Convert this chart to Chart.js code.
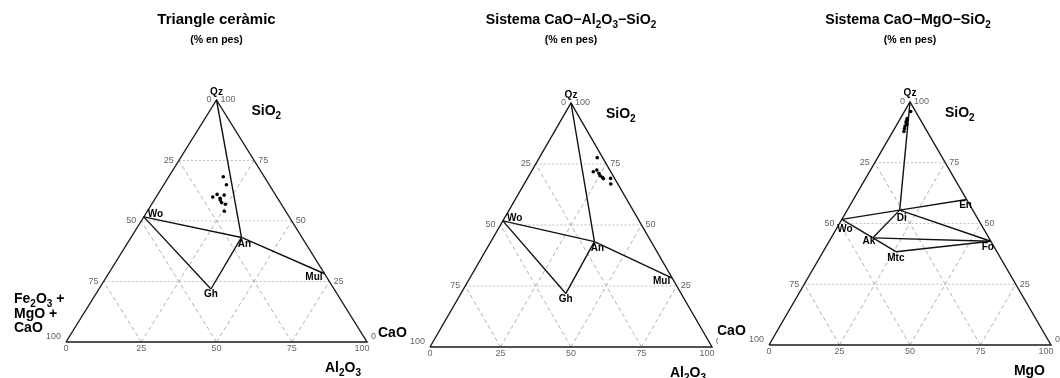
<!DOCTYPE html>
<html>
<head>
<meta charset="utf-8">
<script src="https://cdn.jsdelivr.net/npm/chart.js@4.4.1/dist/chart.umd.min.js"></script>
<style>
    html, body { margin: 0; padding: 0; background: #fff; }
    #wrap { position: relative; width: 1060px; height: 378px; overflow: hidden; }
    .panel { position: absolute; top: 0; height: 378px; }
</style>
</head>
<body>
<div id="wrap">
    <div class="panel" style="left:0px;width:376px"><canvas id="ceramic" width="376" height="378"></canvas></div>
    <div class="panel" style="left:376px;width:342px"><canvas id="cas" width="342" height="378"></canvas></div>
    <div class="panel" style="left:718px;width:342px"><canvas id="cms" width="342" height="378"></canvas></div>
</div>
<script>
const FONT = "'Liberation Sans', Arial, Helvetica, sans-serif";

// Tick values on each edge, and the inner guide lines
const edgeTicks = [0, 25, 50, 75, 100];
const gridTicks = [25, 50, 75];

// Triangle ceràmic samples (% Al2O3, % SiO2, rest Fe2O3 + MgO + CaO)
const ceramicAl2O3 = [18.1, 20.8, 18.8, 19.7, 21.5, 22.2, 21.9, 22.9, 24.5, 25.6];
const ceramicSiO2  = [68.3, 65.0, 59.9, 61.0, 59.4, 60.7, 58.7, 57.6, 56.9, 54.0];

// Sistema CaO-Al2O3-SiO2 samples
const casAl2O3 = [20.5, 22.9, 22.0, 24.3, 25.2, 26.4, 27.0, 29.5, 30.7];
const casSiO2  = [77.6, 72.5, 71.8, 71.2, 70.2, 69.5, 69.0, 69.1, 66.8];

// Sistema CaO-MgO-SiO2 samples
const cmsMgO  = [2.2, 2.4, 2.6, 2.8, 3.4, 3.2, 3.5, 3.9];
const cmsSiO2 = [96.1, 93.2, 92.4, 91.6, 90.9, 90.1, 89.1, 87.9];

// Mineral phases (% en pes)
const casPhases     = ['Qz', 'Wo', 'An', 'Gh', 'Mul'];
const casPhaseAl2O3 = [0, 0, 36.7, 37.2, 71.8];
const casPhaseSiO2  = [100, 51.7, 43.2, 21.9, 28.2];
const casTies = [['Qz', 'An'], ['Wo', 'An'], ['An', 'Mul'], ['Wo', 'Gh'], ['Gh', 'An']];

const cmsPhases    = ['Qz', 'Wo', 'Di', 'En', 'Fo', 'Ak', 'Mtc'];
const cmsPhaseMgO  = [0, 0, 18.6, 40.1, 57.3, 14.8, 25.8];
const cmsPhaseSiO2 = [100, 51.7, 55.5, 59.9, 42.7, 44.1, 38.4];
const cmsTies = [['Qz', 'Di'], ['Wo', 'Di'], ['Di', 'En'], ['Di', 'Fo'], ['Wo', 'Ak'],
                 ['Ak', 'Di'], ['Ak', 'Fo'], ['Ak', 'Mtc'], ['Mtc', 'Fo']];

// Texts
const titles = ['Triangle ceràmic', 'Sistema CaO−Al2O3−SiO2', 'Sistema CaO−MgO−SiO2'];
const subtitle = '(% en pes)';
const topAxis = 'SiO2';
const bottomAxes = ['Al2O3', 'Al2O3', 'MgO'];
const leftAxes = [['Fe2O3 +', 'MgO +', 'CaO'], ['CaO'], ['CaO']];

// Where each phase name sits next to its point: [dx, dy, align]
const casLabelPos = {
    Qz: [0, -7.5, 'center'], Wo: [4, -3, 'left'], An: [3, 6.5, 'center'],
    Gh: [0, 5.5, 'center'], Mul: [-2, 3.5, 'right']
};
const cmsLabelPos = {
    Qz: [0, -8.5, 'center'], Wo: [3, 10, 'center'], Di: [2, 8, 'center'], En: [-1, 6, 'center'],
    Fo: [-3, 6, 'center'], Ak: [-4, 3, 'center'], Mtc: [0, 7, 'center']
};

// ternary (bottom component, SiO2) -> plain x/y in data units
function toXY(b, s) {
    return { x: b + s / 2, y: s };
}

function lineSet(points, color, width, dash) {
    return {
        type: 'scatter',
        data: points,
        showLine: true,
        borderColor: color,
        borderWidth: width,
        borderDash: dash,
        pointRadius: 0,
        fill: false,
        clip: false
    };
}

function buildDatasets(sampB, sampS, names, phB, phS, ties) {
    const ds = [];

    // samples on top
    ds.push({
        type: 'scatter',
        data: sampB.map((b, i) => toXY(b, sampS[i])),
        backgroundColor: '#000',
        borderWidth: 0,
        pointRadius: 1.8,
        clip: false
    });

    // tie lines between phases
    ties.forEach(([p, q]) => {
        const i = names.indexOf(p), j = names.indexOf(q);
        ds.push(lineSet([toXY(phB[i], phS[i]), toXY(phB[j], phS[j])], '#111', 1.4, []));
    });

    // triangle frame
    ds.push(lineSet([toXY(0, 0), toXY(100, 0), toXY(0, 100), toXY(0, 0)], '#1a1a1a', 1.4, []));

    // guide lines
    gridTicks.forEach(v => {
        ds.push(lineSet([toXY(0, v), toXY(100 - v, v)], '#c0c0c0', 1, [2, 2]));
        ds.push(lineSet([toXY(v, 0), toXY(v, 100 - v)], '#b0b0b0', 1, [4, 3]));
        ds.push(lineSet([toXY(100 - v, 0), toXY(0, 100 - v)], '#b0b0b0', 1, [4, 3]));
    });
    return ds;
}

// draw a formula, digits after a letter become subscripts
function drawFormula(ctx, text, x, y, size, align) {
    const runs = [];
    for (let i = 0; i < text.length; i++) {
        const ch = text[i];
        const sub = /[0-9]/.test(ch) && i > 0 && /[A-Za-z]/.test(text[i - 1]);
        const last = runs[runs.length - 1];
        if (last && last.sub === sub) last.t += ch;
        else runs.push({ t: ch, sub: sub });
    }
    const big = 'bold ' + size + 'px ' + FONT;
    const small = 'bold ' + Math.round(size * 0.7) + 'px ' + FONT;
    let total = 0;
    runs.forEach(r => {
        ctx.font = r.sub ? small : big;
        r.w = ctx.measureText(r.t).width;
        total += r.w;
    });
    let cx = align === 'center' ? x - total / 2 : align === 'right' ? x - total : x;
    ctx.textAlign = 'left';
    ctx.textBaseline = 'alphabetic';
    runs.forEach(r => {
        ctx.font = r.sub ? small : big;
        ctx.fillText(r.t, cx, r.sub ? y + size * 0.27 : y);
        cx += r.w;
    });
}

const ternaryText = {
    id: 'ternaryText',
    afterDatasetsDraw(chart, args, opts) {
        const ctx = chart.ctx;
        const xs = chart.scales.x, ys = chart.scales.y;
        const px = (b, s) => xs.getPixelForValue(b + s / 2);
        const py = s => ys.getPixelForValue(s);
        const area = chart.chartArea;
        const apexX = px(0, 100), apexY = py(100);

        ctx.save();
        ctx.fillStyle = '#000';

        // titles
        drawFormula(ctx, opts.title, apexX + opts.titleShift, 24, opts.titleSize, 'center');
        ctx.font = 'bold 10.5px ' + FONT;
        ctx.textAlign = 'center';
        ctx.fillText(subtitle, apexX, 43);

        // axis names
        drawFormula(ctx, topAxis, apexX + 35, apexY + 15, 14, 'left');
        drawFormula(ctx, opts.bottom, area.right - 6, area.bottom + 30, 14, 'right');
        const lines = opts.left;
        lines.forEach((t, k) => {
            const y = area.bottom - 10 - (lines.length - 1 - k) * 14.5;
            drawFormula(ctx, t, area.left - 52, y, 14, 'left');
        });

        // edge tick labels
        ctx.font = '9px ' + FONT;
        ctx.fillStyle = '#666';
        ctx.textBaseline = 'middle';
        edgeTicks.forEach(v => {
            // left edge (third component)
            ctx.textAlign = 'right';
            ctx.fillText(String(v), px(0, 100 - v) - 5, py(100 - v) - (v === 100 ? 5 : 0));
            // right edge (SiO2)
            ctx.textAlign = 'left';
            ctx.fillText(String(v), px(100 - v, v) + 4, py(v) - (v === 0 ? 5 : 0));
            // bottom edge
            ctx.textAlign = 'center';
            ctx.fillText(String(v), px(v, 0) - (v === 100 ? 5 : 0), py(0) + 7);
        });

        // phase names
        ctx.fillStyle = '#000';
        opts.names.forEach((n, i) => {
            const [dx, dy, align] = opts.labelPos[n];
            ctx.font = 'bold 10px ' + FONT;
            ctx.textAlign = align;
            ctx.textBaseline = 'middle';
            ctx.fillText(n, px(opts.phB[i], opts.phS[i]) + dx, py(opts.phS[i]) + dy);
        });
        ctx.restore();
    }
};

function makeTernary(id, padding, datasets, text) {
    return new Chart(document.getElementById(id), {
        type: 'scatter',
        data: { datasets: datasets },
        options: {
            responsive: false,
            animation: false,
            events: [],
            layout: { padding: padding },
            scales: {
                x: { type: 'linear', min: 0, max: 100, display: false },
                y: { type: 'linear', min: 0, max: 100, display: false }
            },
            plugins: {
                legend: { display: false },
                tooltip: { enabled: false },
                ternaryText: text
            }
        },
        plugins: [ternaryText]
    });
}

makeTernary('ceramic', { left: 66, right: 9, top: 100, bottom: 36 },
    buildDatasets(ceramicAl2O3, ceramicSiO2, casPhases, casPhaseAl2O3, casPhaseSiO2, casTies),
    { title: titles[0], titleSize: 15, titleShift: 0, bottom: bottomAxes[0], left: leftAxes[0],
      names: casPhases, phB: casPhaseAl2O3, phS: casPhaseSiO2, labelPos: casLabelPos });

makeTernary('cas', { left: 54, right: 6, top: 103, bottom: 31 },
    buildDatasets(casAl2O3, casSiO2, casPhases, casPhaseAl2O3, casPhaseSiO2, casTies),
    { title: titles[1], titleSize: 14.2, titleShift: 0, bottom: bottomAxes[1], left: leftAxes[1],
      names: casPhases, phB: casPhaseAl2O3, phS: casPhaseSiO2, labelPos: casLabelPos });

makeTernary('cms', { left: 51, right: 9, top: 102, bottom: 33 },
    buildDatasets(cmsMgO, cmsSiO2, cmsPhases, cmsPhaseMgO, cmsPhaseSiO2, cmsTies),
    { title: titles[2], titleSize: 14.2, titleShift: -2, bottom: bottomAxes[2], left: leftAxes[2],
      names: cmsPhases, phB: cmsPhaseMgO, phS: cmsPhaseSiO2, labelPos: cmsLabelPos });
</script>
</body>
</html>
